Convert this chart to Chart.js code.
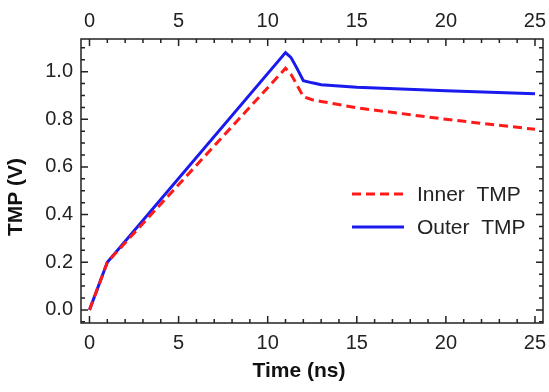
<!DOCTYPE html>
<html>
<head>
<meta charset="utf-8">
<script src="https://cdn.jsdelivr.net/npm/chart.js@4.4.0/dist/chart.umd.min.js"></script>
<style>
html,body{margin:0;padding:0;background:#fff;}
#wrap{width:549px;height:392px;}
</style>
</head>
<body>
<div id="wrap"><canvas id="c" width="549" height="392"></canvas></div>
<script>
// ---- data ----
const timeNs = [0, 1, 11, 11.3, 11.6, 12, 12.5, 13, 15, 20, 25];
const innerTMP = [0, 0.2, 1.014, 0.99, 0.95, 0.895, 0.882, 0.875, 0.848, 0.80, 0.758];
const outerTMP = [0, 0.2, 1.08, 1.06, 1.02, 0.962, 0.953, 0.945, 0.935, 0.92, 0.907];
const xTickValues = [0, 5, 10, 15, 20, 25];
const yTickValues = [0, 0.2, 0.4, 0.6, 0.8, 1.0];
const seriesLabels = ['Inner  TMP', 'Outer  TMP'];
const axisTitles = {x: 'Time (ns)', y: 'TMP (V)'};

const FONT = "'Liberation Sans', Arial, Helvetica, sans-serif";
const X_MIN = -0.477, X_MAX = 25.45, Y_MIN = -0.055, Y_MAX = 1.137;

function pts(xs, ys){ return xs.map((x,i)=>({x:x, y:ys[i]})); }

const frameAndTicks = {
  id: 'frameAndTicks',
  afterDatasetsDraw(chart){
    const {ctx, chartArea:a, scales} = chart;
    const xs = scales.x, ys = scales.y;
    ctx.save();
    ctx.strokeStyle = '#222';
    ctx.lineWidth = 1.5;
    ctx.strokeRect(a.left, a.top, a.right - a.left, a.bottom - a.top);
    ctx.lineWidth = 1.5;
    ctx.beginPath();
    // x ticks
    for (let v = 0; v <= 25; v += 1) {
      const p = xs.getPixelForValue(v);
      const len = (v % 5 === 0) ? 7 : 4;
      ctx.moveTo(p, a.bottom); ctx.lineTo(p, a.bottom - len);
      ctx.moveTo(p, a.top); ctx.lineTo(p, a.top + len);
    }
    // y ticks
    for (let k = -1; k <= 22; k++) {
      const v = k * 0.05;
      if (v < Y_MIN || v > Y_MAX) continue;
      const p = ys.getPixelForValue(v);
      const len = (k % 4 === 0) ? 7 : 4;
      ctx.moveTo(a.left, p); ctx.lineTo(a.left + len, p);
      ctx.moveTo(a.right, p); ctx.lineTo(a.right - len, p);
    }
    ctx.stroke();

    // legend
    const ds = chart.data.datasets;
    const legendY = [194, 227];
    ds.forEach((d, i) => {
      ctx.beginPath();
      ctx.strokeStyle = d.borderColor;
      ctx.lineWidth = d.borderWidth;
      ctx.setLineDash(d.borderDash || []);
      ctx.moveTo(352, legendY[i]); ctx.lineTo(404, legendY[i]);
      ctx.stroke();
      ctx.setLineDash([]);
      ctx.fillStyle = '#222';
      ctx.font = '21px ' + FONT;
      ctx.textAlign = 'left';
      ctx.textBaseline = 'middle';
      ctx.fillText(d.label, 417, legendY[i] + 1);
    });

    // axis titles
    ctx.fillStyle = '#111';
    ctx.font = 'bold 21px ' + FONT;
    ctx.textAlign = 'center';
    ctx.textBaseline = 'middle';
    ctx.fillText(axisTitles.x, 299, 371);
    ctx.save();
    ctx.translate(16, 197);
    ctx.rotate(-Math.PI/2);
    ctx.fillText(axisTitles.y, 0, 0);
    ctx.restore();
    ctx.restore();
  }
};

const tickFont = {family: FONT, size: 20};
const noGrid = {display:false, drawTicks:false};
function fixH(h){ return s => { s.height = h; s.paddingLeft = 0; s.paddingRight = 0; }; }
function fixW(w){ return s => { s.width = w; s.paddingTop = 0; s.paddingBottom = 0; }; }

new Chart(document.getElementById('c'), {
  type: 'line',
  data: {
    datasets: [
      {label: seriesLabels[0], data: pts(timeNs, innerTMP), borderColor: '#ff1a1a', borderWidth: 3, borderDash: [9,5], pointRadius: 0, tension: 0, fill:false, xAxisID:'x', yAxisID:'y'},
      {label: seriesLabels[1], data: pts(timeNs, outerTMP), borderColor: '#1a1aee', borderWidth: 3, pointRadius: 0, tension: 0, fill:false, xAxisID:'x', yAxisID:'y'}
    ]
  },
  options: {
    responsive: false,
    animation: false,
    devicePixelRatio: 1,
    layout: {padding: 0},
    plugins: {legend: {display:false}, tooltip: {enabled:false}},
    scales: {
      x: {
        type: 'linear', position: 'bottom', min: X_MIN, max: X_MAX,
        grid: noGrid, border: {display:false},
        afterBuildTicks: s => { s.ticks = xTickValues.map(v => ({value:v})); },
        afterFit: fixH(69),
        ticks: {font: tickFont, color: '#222', padding: 8, maxRotation: 0, autoSkip: false}
      },
      x2: {
        type: 'linear', position: 'top', min: X_MIN, max: X_MAX,
        grid: noGrid, border: {display:false},
        afterBuildTicks: s => { s.ticks = xTickValues.map(v => ({value:v})); },
        afterFit: fixH(39),
        ticks: {font: tickFont, color: '#222', padding: 6, maxRotation: 0, autoSkip: false}
      },
      y: {
        type: 'linear', position: 'left', min: Y_MIN, max: Y_MAX,
        grid: noGrid, border: {display:false},
        afterBuildTicks: s => { s.ticks = yTickValues.map(v => ({value:v})); },
        afterFit: fixW(81),
        ticks: {font: tickFont, color: '#222', padding: 8, autoSkip: false, callback: v => Number(v).toFixed(1)}
      },
      y2: {
        type: 'linear', position: 'right', min: Y_MIN, max: Y_MAX,
        grid: noGrid, border: {display:false},
        afterFit: fixW(6),
        ticks: {display: false}
      }
    }
  },
  plugins: [frameAndTicks]
});
</script>
</body>
</html>
